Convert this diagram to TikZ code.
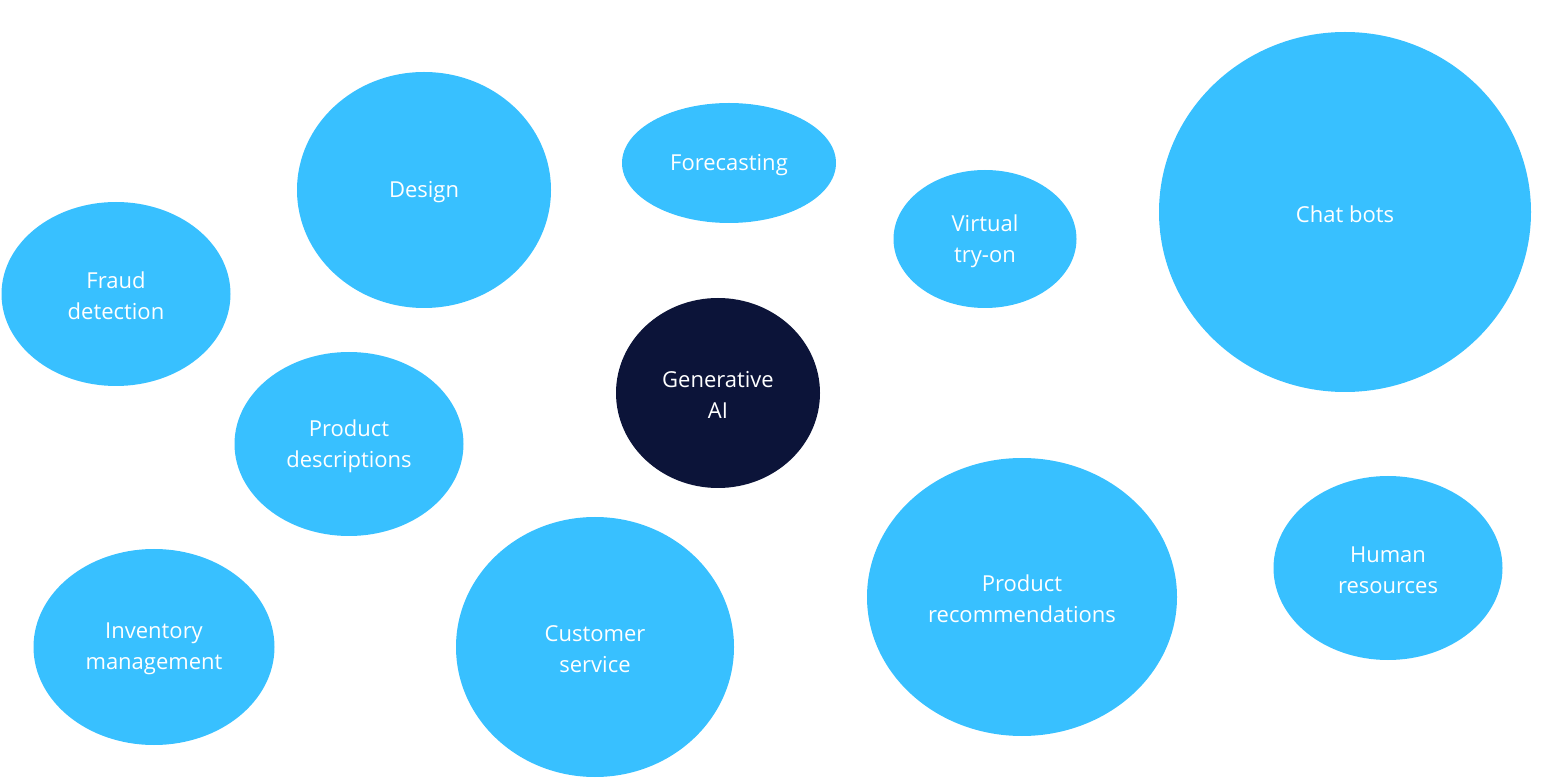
\documentclass[tikz,border=0pt]{standalone}
\usepackage{fontspec}
\setmainfont{Open Sans}
\definecolor{bub}{HTML}{38C0FF}
\definecolor{navy}{HTML}{0C1439}
\begin{document}
\begin{tikzpicture}[x=0.5pt,y=-0.5pt,
  bubble/.style={fill=bub,draw=none},
  lbl/.style={text=white,align=center,yshift=-1pt,font=\fontsize{11}{15.5}\selectfont}]
\useasboundingbox (0,0) rectangle (1543,780);
\fill[bubble] (424,190) ellipse [x radius=127, y radius=118];
\node[lbl] (design) at (424,190) {Design};
\fill[bubble] (729,163) ellipse [x radius=107, y radius=60];
\node[lbl] (fore) at (729,163) {Forecasting};
\fill[bubble] (985,239) ellipse [x radius=91.5, y radius=69];
\node[lbl] (vto) at (985,239) {Virtual\\try-on};
\fill[bubble] (1345,212) ellipse [x radius=186, y radius=180];
\node[lbl] (chat) at (1345,212) {Chat bots};
\fill[bubble] (116,294) ellipse [x radius=114.5, y radius=92];
\node[lbl] (fraud) at (116,294) {Fraud\\detection};
\fill[bubble] (349,444) ellipse [x radius=114.5, y radius=92];
\node[lbl] (pdesc) at (349,444) {Product\\descriptions};
\fill[navy] (718,393) ellipse [x radius=102, y radius=95];
\node[lbl] (gen) at (718,393) {Generative\\AI};
\fill[bubble] (154,647) ellipse [x radius=120.5, y radius=98];
\node[lbl] (inv) at (154,647) {Inventory\\management};
\fill[bubble] (595,647) ellipse [x radius=139, y radius=130];
\node[lbl] (cust) at (595,647) {Customer\\service};
\fill[bubble] (1022,597) ellipse [x radius=155, y radius=139];
\node[lbl] (prec) at (1022,597) {Product\\recommendations};
\fill[bubble] (1388,568) ellipse [x radius=114.5, y radius=92];
\node[lbl] (hr) at (1388,568) {Human\\resources};
\end{tikzpicture}
\end{document}
